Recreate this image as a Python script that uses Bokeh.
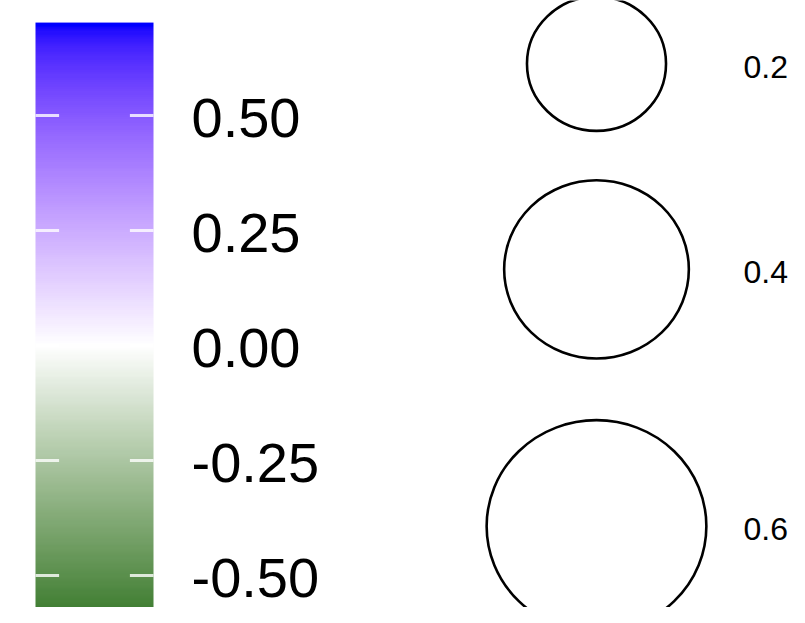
import numpy as np
from bokeh.plotting import figure
from bokeh.models import Range1d, LinearColorMapper
from bokeh.core.properties import value
from bokeh.embed import file_html
from bokeh.resources import INLINE

# ---- data (legend contents) ----
fill_limits = [-0.572, 0.702]          # data range of the colour scale
fill_breaks = [0.50, 0.25, 0.00, -0.25, -0.50]
fill_labels = ["0.50", "0.25", "0.00", "-0.25", "-0.50"]
size_breaks = [0.2, 0.4, 0.6]
size_labels = ["0.2", "0.4", "0.6"]
low_col, mid_col, high_col = "#006400", "#FFFFFF", "#0000FF"

# ---- layout / style ----
W, H = 789, 607
PX_PER_UNIT = 460.0          # colour bar scale: pixels per 1.0
ZERO_PX = 345.0              # figure pixel row of value 0
BAR_X0, BAR_X1 = 35, 153
LABEL_X = 191
SIZE_LABEL_X = 743
KEY_X = 596
KEY_TOP = -25.0
FONT = "Liberation Sans"

# ---- Lab interpolation (as ggplot2 gradient2) ----
def hex2rgb(h):
    h = h.lstrip("#")
    return np.array([int(h[i:i + 2], 16) for i in (0, 2, 4)], float) / 255

M = np.array([[0.4124, 0.3576, 0.1805], [0.2126, 0.7152, 0.0722], [0.0193, 0.1192, 0.9505]])
Minv = np.linalg.inv(M)
WP = np.array([0.95047, 1.0, 1.08883])

def rgb2lab(c):
    lin = np.where(c <= 0.04045, c / 12.92, ((c + 0.055) / 1.055) ** 2.4)
    xyz = M @ lin / WP
    f = np.where(xyz > 216 / 24389, np.cbrt(xyz), (24389 / 27 * xyz + 16) / 116)
    return np.array([116 * f[1] - 16, 500 * (f[0] - f[1]), 200 * (f[1] - f[2])])

def lab2rgb(lab):
    L, a, b = lab
    fy = (L + 16) / 116
    fx = fy + a / 500
    fz = fy - b / 200
    f = np.array([fx, fy, fz])
    xyz = np.where(f ** 3 > 216 / 24389, f ** 3, (116 * f - 16) / (24389 / 27)) * WP
    lin = np.clip(Minv @ xyz, 0, 1)
    c = np.where(lin <= 0.0031308, 12.92 * lin, 1.055 * lin ** (1 / 2.4) - 0.055)
    return np.clip(c, 0, 1)

labs = [rgb2lab(hex2rgb(c)) for c in (low_col, mid_col, high_col)]
palette = []
for t in np.linspace(0, 1, 256):
    if t <= 0.5:
        u = t / 0.5
        lab = labs[0] * (1 - u) + labs[1] * u
    else:
        u = (t - 0.5) / 0.5
        lab = labs[1] * (1 - u) + labs[2] * u
    r, g, b = (lab2rgb(lab) * 255).round().astype(int)
    palette.append("#%02x%02x%02x" % (r, g, b))

m = max(abs(fill_limits[0]), abs(fill_limits[1]))
mapper = LinearColorMapper(palette=palette, low=-m, high=m)

# ---- figure ----
v_top = ZERO_PX / PX_PER_UNIT
v_bot = -(H - ZERO_PX) / PX_PER_UNIT
p = figure(width=W, height=H, x_range=Range1d(0, W), y_range=Range1d(v_bot, v_top),
           output_backend="svg", toolbar_location=None, min_border=0)
p.axis.visible = False
p.grid.visible = False
p.outline_line_color = None
p.background_fill_color = "white"
p.extra_y_ranges = {"px": Range1d(H, 0)}

# colour bar
grad = np.linspace(fill_limits[0], fill_limits[1], 300).reshape(300, 1)
p.image(image=[grad], x=BAR_X0, y=fill_limits[0], dw=BAR_X1 - BAR_X0,
        dh=fill_limits[1] - fill_limits[0], color_mapper=mapper)

tick_len = (BAR_X1 - BAR_X0) / 5
n = len(fill_breaks)
p.segment(x0=[BAR_X0] * n, x1=[BAR_X0 + tick_len] * n,
          y0=fill_breaks, y1=fill_breaks, line_color="white", line_width=3, line_alpha=0.8)
p.segment(x0=[BAR_X1 - tick_len] * n, x1=[BAR_X1] * n,
          y0=fill_breaks, y1=fill_breaks, line_color="white", line_width=3, line_alpha=0.8)
p.text(x=[LABEL_X] * n, y=fill_breaks, text=fill_labels,
       text_font=value(FONT), text_font_size="56px", text_color="black",
       text_align="left", text_baseline="middle", y_offset=2)

# size legend
diam = [28.8 + 246.5 * np.sqrt(v) for v in size_breaks]
aspect = 0.965
key_h = [1.27 * d for d in diam]
top = KEY_TOP
centers = []
for h in key_h:
    centers.append(top + h / 2)
    top += h
k = len(size_breaks)
p.ellipse(x=[KEY_X] * k, y=centers, width=diam,
          height=[d * aspect for d in diam], width_units="screen", height_units="screen",
          fill_color=None, line_color="black", line_width=2.6, y_range_name="px")
p.text(x=[SIZE_LABEL_X] * k, y=centers, text=size_labels,
       text_font=value(FONT), text_font_size="32px", text_color="black",
       text_align="left", text_baseline="middle", y_offset=3, y_range_name="px")

open("out.html", "w").write(file_html(p, INLINE))
